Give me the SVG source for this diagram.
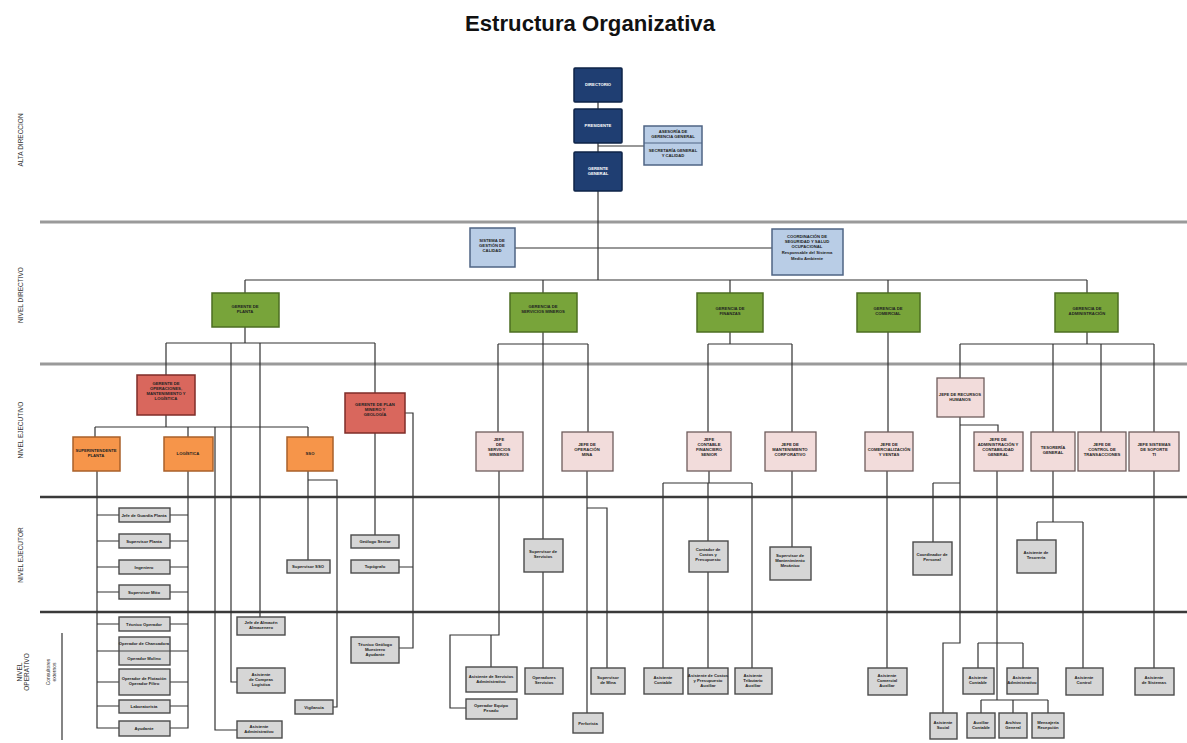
<svg xmlns="http://www.w3.org/2000/svg" width="1187" height="743" viewBox="0 0 1187 743">
<style>
text{font-family:"Liberation Sans",Arial,sans-serif}
.title{font-size:22px;font-weight:bold;fill:#111}
.lvl{font-size:6.5px;fill:#333;text-anchor:middle}
.band1{stroke:#9a9a9a;stroke-width:3;fill:none}
.band2{stroke:#3a3a3a;stroke-width:2.5;fill:none}
.c{stroke:#333;stroke-width:1.2;fill:none}
.db{fill:#1f3e72;stroke:#0e2347;stroke-width:1.5}
.lb{fill:#b9cde6;stroke:#4f6484;stroke-width:1.5}
.gr{fill:#78a43a;stroke:#4c6e22;stroke-width:1.5}
.rd{fill:#d9675d;stroke:#7f2d28;stroke-width:1.5}
.or{fill:#f6954a;stroke:#a9602a;stroke-width:1.5}
.pk{fill:#f2dcdb;stroke:#6e5c5c;stroke-width:1.3}
.gy{fill:#d6d6d6;stroke:#4a4a4a;stroke-width:1.4}
.t{font-size:4.2px;font-weight:bold;text-anchor:middle;fill:#222}
.tw{font-size:4.2px;font-weight:bold;text-anchor:middle;fill:#fff}
</style>
<rect width="1187" height="743" fill="#fff"/>
<text class="title" x="590" y="31" text-anchor="middle" textLength="250" lengthAdjust="spacingAndGlyphs">Estructura Organizativa</text>

<g id="bands">
<line class="band1" x1="40" y1="222" x2="1187" y2="222"/>
<line class="band1" x1="40" y1="364" x2="1187" y2="364"/>
<line class="band2" x1="40" y1="497" x2="1187" y2="497"/>
<line class="band2" x1="40" y1="612" x2="1187" y2="612"/>
<line class="c" x1="62" y1="633" x2="62" y2="740"/>
<text class="lvl" transform="translate(23,140) rotate(-90)">ALTA DIRECCION</text>
<text class="lvl" transform="translate(23,295) rotate(-90)">NIVEL DIRECTIVO</text>
<text class="lvl" transform="translate(23,430) rotate(-90)">NIVEL EJECUTIVO</text>
<text class="lvl" transform="translate(23,555) rotate(-90)">NIVEL EJECUTOR</text>
<text class="lvl" transform="translate(22,672) rotate(-90)"><tspan x="0">NIVEL</tspan><tspan x="0" dy="7">OPERATIVO</tspan></text>
<text class="lvl" style="font-size:5px" transform="translate(50,672) rotate(-90)"><tspan x="0">Consultores</tspan><tspan x="0" dy="6">externos</tspan></text>
</g>

<g id="connectors">
<path class="c" d="M598 102V109M598 143V152M598 191V280M598 146H644M515 248H772"/>
<path class="c" d="M245 280H1087M245 280V293M543 280V293M730 280V293M888 280V293M1087 280V293"/>
<path class="c" d="M245 327V343M166 343H375M166 343V375M231 343V682H237M260 343V617M375 343V393"/>
<path class="c" d="M166 415V427M95 427H308M95 427V437M188 427V437M215 427V730H237M308 427V437"/>
<path class="c" d="M97 471V728H119M97 515H119M97 541H119M97 567H119M97 592H119M97 624H119M97 651H119M97 682H119M97 706H119"/>
<path class="c" d="M188 471V728H170M170 515H188M170 541H188M170 567H188M170 592H188M170 624H188M170 651H188M170 682H188M170 706H188"/>
<path class="c" d="M308 471V560M308 480H337V707H333"/>
<path class="c" d="M375 433V535M405 413H413V648H399M399 567H413"/>
<path class="c" d="M543 332V344M498 344H588M498 344V432M543 344V539M588 344V432"/>
<path class="c" d="M499 471V635H450V708H466M491 635V667M543 572V668M587 471V713M587 508H607V668"/>
<path class="c" d="M730 332V344M708 344H792M708 344V432M792 344V432"/>
<path class="c" d="M709 471V483M663 483H752M663 483V668M708 483V541M708 572V668M752 483V668M792 471V547"/>
<path class="c" d="M888 332V432M887 471V668"/>
<path class="c" d="M1087 332V344M960 344H1154M960 344V378M1053 344V432M1101 344V432M1154 344V432"/>
<path class="c" d="M960 417V643H943V713M960 425H998V432M933 483H960M933 483V542"/>
<path class="c" d="M997 471V700M978 643H1023M978 643V668M1023 643V668M981 700H1048M981 700V713M1013 700V713M1048 700V713"/>
<path class="c" d="M1053 471V522M1037 522H1083M1037 522V540M1083 522V668M1154 471V668"/>
</g>

<g id="n-directorio"><rect class="db" x="574" y="68" width="48" height="34" rx="1"/><text class="tw" x="598" y="86">DIRECTORIO</text></g>
<g id="n-presidente"><rect class="db" x="574" y="109" width="48" height="34" rx="1"/><text class="tw" x="598" y="127">PRESIDENTE</text></g>
<g id="n-gerente"><rect class="db" x="574" y="152" width="48" height="39" rx="1"/><text class="tw" x="598" y="170"><tspan x="598">GERENTE</tspan><tspan x="598" dy="5">GENERAL</tspan></text></g>
<g id="n-asesoria"><rect class="lb" x="644" y="126" width="58" height="39"/><line x1="644" y1="143" x2="702" y2="143" stroke="#4f6484" stroke-width="1"/><text class="t" x="673" y="133"><tspan x="673">ASESORÍA DE</tspan><tspan x="673" dy="5">GERENCIA GENERAL</tspan></text><text class="t" x="673" y="152"><tspan x="673">SECRETARÍA GENERAL</tspan><tspan x="673" dy="5">Y CALIDAD</tspan></text></g>
<g id="n-sgc"><rect class="lb" x="470" y="228" width="45" height="39"/><text class="t" x="492" y="242"><tspan x="492">SISTEMA DE</tspan><tspan x="492" dy="5">GESTIÓN DE</tspan><tspan x="492" dy="5">CALIDAD</tspan></text></g>
<g id="n-coord"><rect class="lb" x="772" y="229" width="71" height="46"/><text class="t" x="807" y="238"><tspan x="807">COORDINACIÓN DE</tspan><tspan x="807" dy="5">SEGURIDAD Y SALUD</tspan><tspan x="807" dy="5">OCUPACIONAL</tspan><tspan x="807" dy="6">Responsable del Sistema</tspan><tspan x="807" dy="6">Medio Ambiente</tspan></text></g>

<g id="n-g1"><rect class="gr" x="212" y="293" width="67" height="34"/><text class="t" x="245" y="308"><tspan x="245">GERENTE DE</tspan><tspan x="245" dy="5">PLANTA</tspan></text></g>
<g id="n-g2"><rect class="gr" x="510" y="293" width="67" height="39"/><text class="t" x="543" y="308"><tspan x="543">GERENCIA DE</tspan><tspan x="543" dy="5">SERVICIOS MINEROS</tspan></text></g>
<g id="n-g3"><rect class="gr" x="697" y="293" width="66" height="39"/><text class="t" x="730" y="310"><tspan x="730">GERENCIA DE</tspan><tspan x="730" dy="5">FINANZAS</tspan></text></g>
<g id="n-g4"><rect class="gr" x="857" y="293" width="63" height="39"/><text class="t" x="888" y="310"><tspan x="888">GERENCIA DE</tspan><tspan x="888" dy="5">COMERCIAL</tspan></text></g>
<g id="n-g5"><rect class="gr" x="1055" y="293" width="63" height="39"/><text class="t" x="1087" y="310"><tspan x="1087">GERENCIA DE</tspan><tspan x="1087" dy="5">ADMINISTRACIÓN</tspan></text></g>

<g id="n-r1"><rect class="rd" x="137" y="375" width="58" height="40"/><text class="t" x="166" y="385"><tspan x="166">GERENTE DE</tspan><tspan x="166" dy="5">OPERACIONES,</tspan><tspan x="166" dy="5">MANTENIMIENTO Y</tspan><tspan x="166" dy="5">LOGÍSTICA</tspan></text></g>
<g id="n-r2"><rect class="rd" x="345" y="393" width="60" height="40"/><text class="t" x="375" y="406"><tspan x="375">GERENTE DE PLAN</tspan><tspan x="375" dy="5">MINERO Y</tspan><tspan x="375" dy="5">GEOLOGÍA</tspan></text></g>

<g id="n-o1"><rect class="or" x="73" y="437" width="47" height="34"/><text class="t" x="96" y="452"><tspan x="96">SUPERINTENDENTE</tspan><tspan x="96" dy="5">PLANTA</tspan></text></g>
<g id="n-o2"><rect class="or" x="164" y="437" width="49" height="34"/><text class="t" x="188" y="455">LOGÍSTICA</text></g>
<g id="n-o3"><rect class="or" x="287" y="437" width="46" height="34"/><text class="t" x="310" y="455">SSO</text></g>

<g id="n-p1"><rect class="pk" x="476" y="432" width="47" height="39"/><text class="t" x="499" y="441"><tspan x="499">JEFE</tspan><tspan x="499" dy="5">DE</tspan><tspan x="499" dy="5">SERVICIOS</tspan><tspan x="499" dy="5">MINEROS</tspan></text></g>
<g id="n-p2"><rect class="pk" x="562" y="432" width="51" height="39"/><text class="t" x="587" y="446"><tspan x="587">JEFE DE</tspan><tspan x="587" dy="5">OPERACIÓN</tspan><tspan x="587" dy="5">MINA</tspan></text></g>
<g id="n-p3"><rect class="pk" x="687" y="432" width="44" height="39"/><text class="t" x="709" y="441"><tspan x="709">JEFE</tspan><tspan x="709" dy="5">CONTABLE</tspan><tspan x="709" dy="5">FINANCIERO</tspan><tspan x="709" dy="5">SENIOR</tspan></text></g>
<g id="n-p4"><rect class="pk" x="765" y="432" width="51" height="39"/><text class="t" x="790" y="446"><tspan x="790">JEFE DE</tspan><tspan x="790" dy="5">MANTENIMIENTO</tspan><tspan x="790" dy="5">CORPORATIVO</tspan></text></g>
<g id="n-p5"><rect class="pk" x="865" y="432" width="48" height="39"/><text class="t" x="889" y="446"><tspan x="889">JEFE DE</tspan><tspan x="889" dy="5">COMERCIALIZACIÓN</tspan><tspan x="889" dy="5">Y VENTAS</tspan></text></g>
<g id="n-p6"><rect class="pk" x="937" y="378" width="47" height="39"/><text class="t" x="960" y="396"><tspan x="960">JEFE DE RECURSOS</tspan><tspan x="960" dy="5">HUMANOS</tspan></text></g>
<g id="n-p7"><rect class="pk" x="974" y="432" width="49" height="39"/><text class="t" x="998" y="441"><tspan x="998">JEFE DE</tspan><tspan x="998" dy="5">ADMINISTRACIÓN Y</tspan><tspan x="998" dy="5">CONTABILIDAD</tspan><tspan x="998" dy="5">GENERAL</tspan></text></g>
<g id="n-p8"><rect class="pk" x="1031" y="432" width="44" height="39"/><text class="t" x="1053" y="449"><tspan x="1053">TESORERÍA</tspan><tspan x="1053" dy="5">GENERAL</tspan></text></g>
<g id="n-p9"><rect class="pk" x="1078" y="432" width="48" height="39"/><text class="t" x="1102" y="446"><tspan x="1102">JEFE DE</tspan><tspan x="1102" dy="5">CONTROL DE</tspan><tspan x="1102" dy="5">TRANSACCIONES</tspan></text></g>
<g id="n-p10"><rect class="pk" x="1129" y="432" width="50" height="39"/><text class="t" x="1154" y="446"><tspan x="1154">JEFE SISTEMAS</tspan><tspan x="1154" dy="5">DE SOPORTE</tspan><tspan x="1154" dy="5">TI</tspan></text></g>

<g id="n-e1"><rect class="gy" x="119" y="508" width="51" height="14"/><text class="t" x="144" y="517">Jefe de Guardia Planta</text></g>
<g id="n-e2"><rect class="gy" x="119" y="534" width="51" height="14"/><text class="t" x="144" y="543">Supervisor Planta</text></g>
<g id="n-e3"><rect class="gy" x="119" y="560" width="51" height="14"/><text class="t" x="144" y="569">Ingeniero</text></g>
<g id="n-e4"><rect class="gy" x="119" y="585" width="51" height="14"/><text class="t" x="144" y="594">Supervisor Mtto</text></g>
<g id="n-o5"><rect class="gy" x="119" y="617" width="51" height="14"/><text class="t" x="144" y="626">Técnico Operador</text></g>
<g id="n-o6"><rect class="gy" x="119" y="637" width="51" height="28"/><line x1="119" y1="651" x2="170" y2="651" stroke="#4a4a4a"/><text class="t" x="144" y="645">Operador de Chancadora</text><text class="t" x="144" y="660">Operador Molino</text></g>
<g id="n-o7"><rect class="gy" x="119" y="669" width="51" height="26"/><text class="t" x="144" y="680"><tspan x="144">Operador de Flotación</tspan><tspan x="144" dy="5">Operador Filtro</tspan></text></g>
<g id="n-o8"><rect class="gy" x="119" y="700" width="51" height="13"/><text class="t" x="144" y="708">Laboratorista</text></g>
<g id="n-o9"><rect class="gy" x="119" y="721" width="51" height="15"/><text class="t" x="144" y="730">Ayudante</text></g>
<g id="n-o10"><rect class="gy" x="237" y="617" width="48" height="18"/><text class="t" x="261" y="624"><tspan x="261">Jefe de Almacén</tspan><tspan x="261" dy="5">Almacenero</tspan></text></g>
<g id="n-o11"><rect class="gy" x="237" y="668" width="48" height="25"/><text class="t" x="261" y="676"><tspan x="261">Asistente</tspan><tspan x="261" dy="5">de Compras</tspan><tspan x="261" dy="5">Logística</tspan></text></g>
<g id="n-o12"><rect class="gy" x="237" y="721" width="45" height="17"/><text class="t" x="259" y="728"><tspan x="259">Asistente</tspan><tspan x="259" dy="5">Administrativo</tspan></text></g>
<g id="n-e5"><rect class="gy" x="287" y="560" width="43" height="13"/><text class="t" x="308" y="568">Supervisor SSO</text></g>
<g id="n-o13"><rect class="gy" x="295" y="700" width="38" height="14"/><text class="t" x="314" y="709">Vigilancia</text></g>
<g id="n-e6"><rect class="gy" x="351" y="535" width="48" height="13"/><text class="t" x="375" y="543">Geólogo Senior</text></g>
<g id="n-e7"><rect class="gy" x="351" y="560" width="48" height="13"/><text class="t" x="375" y="568">Topógrafo</text></g>
<g id="n-o14"><rect class="gy" x="351" y="637" width="48" height="26"/><text class="t" x="375" y="646"><tspan x="375">Técnico Geólogo</tspan><tspan x="375" dy="5">Muestrero</tspan><tspan x="375" dy="5">Ayudante</tspan></text></g>

<g id="n-o15"><rect class="gy" x="466" y="667" width="51" height="25"/><text class="t" x="491" y="678"><tspan x="491">Asistente de Servicios</tspan><tspan x="491" dy="5">Administrativo</tspan></text></g>
<g id="n-o16"><rect class="gy" x="466" y="699" width="51" height="20"/><text class="t" x="491" y="707"><tspan x="491">Operador Equipo</tspan><tspan x="491" dy="5">Pesado</tspan></text></g>
<g id="n-e8"><rect class="gy" x="524" y="539" width="39" height="33"/><text class="t" x="543" y="553"><tspan x="543">Supervisor de</tspan><tspan x="543" dy="5">Servicios</tspan></text></g>
<g id="n-o17"><rect class="gy" x="525" y="668" width="38" height="26"/><text class="t" x="544" y="679"><tspan x="544">Operadores</tspan><tspan x="544" dy="5">Servicios</tspan></text></g>
<g id="n-o18"><rect class="gy" x="591" y="668" width="34" height="26"/><text class="t" x="608" y="679"><tspan x="608">Supervisor</tspan><tspan x="608" dy="5">de Mina</tspan></text></g>
<g id="n-o19"><rect class="gy" x="573" y="713" width="30" height="20"/><text class="t" x="588" y="725">Perforista</text></g>
<g id="n-o20"><rect class="gy" x="644" y="668" width="39" height="26"/><text class="t" x="663" y="679"><tspan x="663">Asistente</tspan><tspan x="663" dy="5">Contable</tspan></text></g>
<g id="n-e9"><rect class="gy" x="689" y="541" width="39" height="31"/><text class="t" x="708" y="551"><tspan x="708">Contador de</tspan><tspan x="708" dy="5">Costos y</tspan><tspan x="708" dy="5">Presupuesto</tspan></text></g>
<g id="n-o21"><rect class="gy" x="688" y="668" width="40" height="26"/><text class="t" x="708" y="677"><tspan x="708">Asistente de Costos</tspan><tspan x="708" dy="5">y Presupuesto</tspan><tspan x="708" dy="5">Auxiliar</tspan></text></g>
<g id="n-o22"><rect class="gy" x="735" y="668" width="37" height="26"/><text class="t" x="753" y="677"><tspan x="753">Asistente</tspan><tspan x="753" dy="5">Tributario</tspan><tspan x="753" dy="5">Auxiliar</tspan></text></g>
<g id="n-e10"><rect class="gy" x="770" y="547" width="41" height="33"/><text class="t" x="790" y="557"><tspan x="790">Supervisor de</tspan><tspan x="790" dy="5">Mantenimiento</tspan><tspan x="790" dy="5">Mecánico</tspan></text></g>
<g id="n-o23"><rect class="gy" x="868" y="668" width="39" height="27"/><text class="t" x="887" y="677"><tspan x="887">Asistente</tspan><tspan x="887" dy="5">Comercial</tspan><tspan x="887" dy="5">Auxiliar</tspan></text></g>
<g id="n-e11"><rect class="gy" x="913" y="542" width="39" height="33"/><text class="t" x="932" y="556"><tspan x="932">Coordinador de</tspan><tspan x="932" dy="5">Personal</tspan></text></g>
<g id="n-o24"><rect class="gy" x="930" y="713" width="27" height="26"/><text class="t" x="943" y="724"><tspan x="943">Asistente</tspan><tspan x="943" dy="5">Social</tspan></text></g>
<g id="n-o25"><rect class="gy" x="963" y="668" width="31" height="26"/><text class="t" x="978" y="679"><tspan x="978">Asistente</tspan><tspan x="978" dy="5">Contable</tspan></text></g>
<g id="n-o26"><rect class="gy" x="1007" y="668" width="31" height="26"/><text class="t" x="1022" y="679"><tspan x="1022">Asistente</tspan><tspan x="1022" dy="5">Administrativo</tspan></text></g>
<g id="n-o27"><rect class="gy" x="967" y="713" width="28" height="25"/><text class="t" x="981" y="724"><tspan x="981">Auxiliar</tspan><tspan x="981" dy="5">Contable</tspan></text></g>
<g id="n-o28"><rect class="gy" x="999" y="713" width="28" height="25"/><text class="t" x="1013" y="724"><tspan x="1013">Archivo</tspan><tspan x="1013" dy="5">General</tspan></text></g>
<g id="n-o29"><rect class="gy" x="1032" y="713" width="32" height="25"/><text class="t" x="1048" y="724"><tspan x="1048">Mensajería</tspan><tspan x="1048" dy="5">Recepción</tspan></text></g>
<g id="n-e12"><rect class="gy" x="1017" y="540" width="39" height="33"/><text class="t" x="1036" y="554"><tspan x="1036">Asistente de</tspan><tspan x="1036" dy="5">Tesorería</tspan></text></g>
<g id="n-o30"><rect class="gy" x="1066" y="668" width="37" height="27"/><text class="t" x="1084" y="679"><tspan x="1084">Asistente</tspan><tspan x="1084" dy="5">Control</tspan></text></g>
<g id="n-o31"><rect class="gy" x="1135" y="668" width="39" height="27"/><text class="t" x="1154" y="679"><tspan x="1154">Asistente</tspan><tspan x="1154" dy="5">de Sistemas</tspan></text></g>
</svg>
